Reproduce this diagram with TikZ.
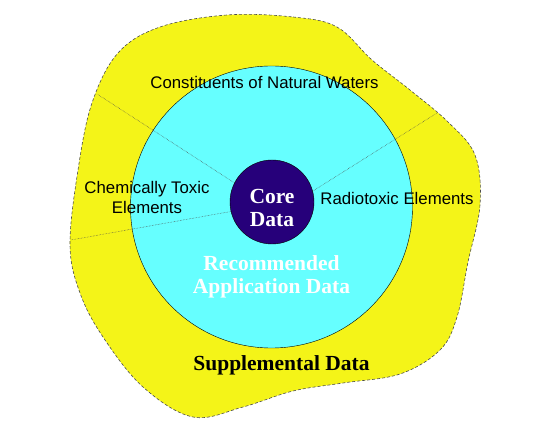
\documentclass[tikz,border=0pt]{standalone}
\usepackage{fontspec}
\setmainfont{Liberation Serif}
\setsansfont{Liberation Sans}
\usetikzlibrary{positioning}
\usepackage{xcolor}
\definecolor{supyellow}{RGB}{244,244,24}
\definecolor{appcyan}{RGB}{102,255,255}
\definecolor{corenavy}{RGB}{38,0,122}

\begin{document}
\begin{tikzpicture}[x=1pt,y=-1pt]
    \tikzstyle{ring} = [circle, draw, inner sep=0pt]
    \tikzstyle{sep} = [draw, densely dotted, gray!60!black, line width=0.5pt]
    \tikzstyle{grp} = [font=\sffamily\fontsize{16.8}{20}\selectfont, align=center]
    \tikzstyle{tier} = [font=\bfseries\fontsize{21.5}{23}\selectfont, align=center]

    \useasboundingbox (0,0) rectangle (533,443);

    % Define outer region
    \draw[fill=supyellow, densely dashed, draw=black!70, line width=0.6pt]
      plot[smooth cycle, tension=0.6] coordinates {
        (227,15) (293,17) (337,27) (372,60) (410,90) (448,122) (475,155)
        (480,205) (468,262) (457,317) (440,350) (400,374) (343,383)
        (293,391) (243,407) (193,417) (143,387) (103,337) (80,293)
        (70,245) (78,170) (92,103) (118,53) (160,27)};

    % Define circles
    \node[ring, fill=appcyan, minimum size=282] (appl) at (271.5,207) {};
    \node[ring, fill=corenavy, minimum size=84] (core) at (272,202) {};
    \node[tier, text=white] (coretext) at (272,208) {Core\\Data};

    \coordinate (nw) at (97,94);
    \coordinate (ne) at (437,113);
    \coordinate (sw) at (71,240);

    \draw[sep] (core.153) -- (nw);
    \draw[sep] (core.15) -- (ne);
    \draw[sep] (core.193) -- (sw);

    % Labels
    \node[grp] (natural) at (264.5,82) {Constituents of Natural Waters};
    \node[grp] (chemical) at (147,197) {Chemically Toxic\\Elements};
    \node[grp] (radio) at (397,198) {Radiotoxic Elements};
    \node[tier, text=white] (recommended) at (271.5,277) {Recommended\\Application Data};
    \node[tier] (supplemental) at (281.5,365) {Supplemental Data};
  \end{tikzpicture}
\end{document}
